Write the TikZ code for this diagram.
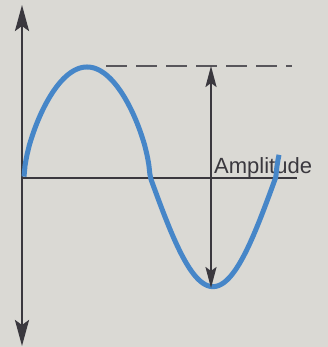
\documentclass[tikz,border=0pt]{standalone}
\usepackage{fontspec}
\setmainfont{Liberation Sans}
\usetikzlibrary{arrows.meta}
\definecolor{bg}{RGB}{218,217,212}
\definecolor{ink}{RGB}{58,56,62}
\definecolor{wave}{RGB}{70,134,200}
\begin{document}
\begin{tikzpicture}[x=1pt,y=-1pt,
  declare function={ws(\u)=sin((\u-24)/63*90); wp(\u)=max(ws(\u),0.0001); wy(\u)=177-110*(min(ws(\u),0)+wp(\u)^0.62);},
  axisline/.style={draw=ink,line width=2.6pt},
  bighead/.style={-{Stealth[length=26pt,width=14pt,inset=5pt]}},
  amparrow/.style={draw=ink,line width=2.2pt,{Stealth[length=21pt,width=11pt,inset=4pt]}-{Stealth[length=21pt,width=11pt,inset=4pt]}},
  dashline/.style={draw=ink!85,line width=2pt,dash pattern=on 21pt off 9pt},
  wavestyle/.style={draw=wave,line width=5pt,line join=round},
  label/.style={text=ink,inner sep=0pt,font=\fontsize{22}{26}\selectfont}]
\fill[bg] (0,0) rectangle (328,347);
\useasboundingbox (0,0) rectangle (328,347);
\coordinate (O) at (22,178);
\coordinate (ytop) at (22,5);
\coordinate (ybot) at (22,346);
\coordinate (xend) at (297,178);
\coordinate (dstart) at (106,66);
\coordinate (dend) at (292,66);
\coordinate (amptop) at (211,66);
\coordinate (ampbot) at (211,288);
\draw[axisline,bighead] (O) -- (ytop);
\draw[axisline,bighead] (O) -- (ybot);
\draw[axisline,line width=2.4pt] (O) -- (xend);
\draw[dashline] (dstart) -- (dend);
\node[label,anchor=base west] (amp) at (214,174) {Amplitude};
\draw[wavestyle] plot[domain=24:279,samples=240,variable=\t] ({\t},{wy(\t)});
\draw[amparrow] (amptop) -- (ampbot);
\end{tikzpicture}
\end{document}
